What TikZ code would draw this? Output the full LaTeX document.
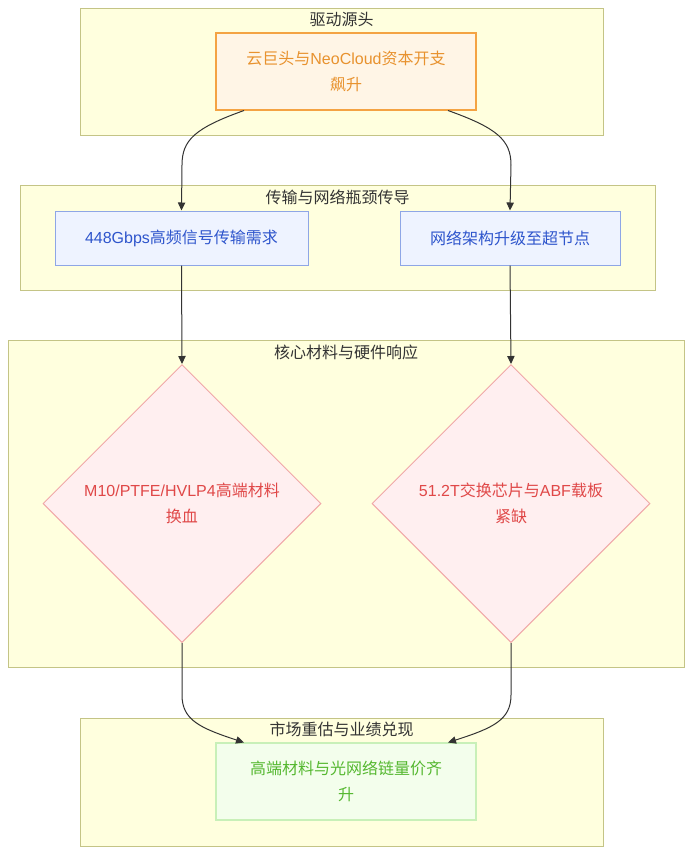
\documentclass[tikz,border=0pt]{standalone}
\usepackage{fontspec}
\setmainfont{Liberation Sans}
\newfontfamily\cjk{Noto Sans CJK SC}
\usetikzlibrary{shapes.geometric,arrows.meta}
\definecolor{clfill}{HTML}{FFFFDE}
\definecolor{clline}{HTML}{C4C486}
\definecolor{ofill}{HTML}{FFF5E6}
\definecolor{oline}{HTML}{F4A343}
\definecolor{otext}{HTML}{E8922E}
\definecolor{bfill}{HTML}{EEF3FF}
\definecolor{bline}{HTML}{8EA6E6}
\definecolor{btext}{HTML}{2E55CC}
\definecolor{rfill}{HTML}{FFEFF0}
\definecolor{rline}{HTML}{F0A8A8}
\definecolor{rtext}{HTML}{E04848}
\definecolor{gfill}{HTML}{F3FEEC}
\definecolor{gline}{HTML}{C8F0B8}
\definecolor{gtext}{HTML}{55B830}
\definecolor{ink}{HTML}{333333}
\tikzset{
  cluster/.style={draw=clline, fill=clfill, line width=0.75pt},
  ctitle/.style={text=ink, font=\cjk\fontsize{12}{14}\selectfont, inner sep=0pt},
  obox/.style={draw=oline, fill=ofill, line width=1.5pt, text=otext, align=center,
    minimum width=260*0.75pt, minimum height=77*0.75pt, inner sep=0pt,
    font=\fontsize{12}{19.5}\selectfont},
  bbox/.style={draw=bline, fill=bfill, line width=0.75pt, text=btext, align=center,
    minimum height=54*0.75pt, inner sep=0pt, font=\fontsize{12}{19.5}\selectfont},
  rdia/.style={diamond, shape aspect=1, draw=rline, fill=rfill, line width=0.75pt, text=rtext,
    align=center, minimum width=278*0.75pt, minimum height=278*0.75pt, inner sep=0pt,
    font=\fontsize{12}{19.5}\selectfont},
  gbox/.style={draw=gline, fill=gfill, line width=1.5pt, text=gtext, align=center,
    minimum width=260*0.75pt, minimum height=77*0.75pt, inner sep=0pt,
    font=\fontsize{12}{19.5}\selectfont},
  arr/.style={draw=ink, line width=0.75pt, -{Triangle[length=6pt,width=5.5pt]}},
}
\begin{document}
\begin{tikzpicture}[x=0.75pt, y=-0.75pt]
\useasboundingbox (0,0) rectangle (692,854);
\fill[white] (0,0) rectangle (692,854);
% clusters
\draw[cluster] (80,8) rectangle (603,135);
\node[ctitle] (t1) at (341.5,19) {驱动源头};
\draw[cluster] (20,185) rectangle (655,290);
\node[ctitle] (t2) at (337.5,197) {传输与网络瓶颈传导};
\draw[cluster] (8,340) rectangle (684,667);
\node[ctitle] (t3) at (346,352) {核心材料与硬件响应};
\draw[cluster] (80,718) rectangle (603,846);
\node[ctitle] (t4) at (341.5,729) {市场重估与业绩兑现};
% nodes
\node[obox] (A) at (346,71.5) {{\cjk 云巨头与}NeoCloud{\cjk 资本开支}\\{\cjk 飙升}};
\node[bbox, minimum width=253*0.75pt] (B) at (181.5,238) {448Gbps{\cjk 高频信号传输需求}};
\node[bbox, minimum width=220*0.75pt] (C) at (510,238) {\cjk 网络架构升级至超节点};
\node[rdia] (D) at (182,503.5) {M10/PTFE/HVLP4{\cjk 高端材料}\\{\cjk 换血}};
\node[rdia] (E) at (511,503.5) {51.2T{\cjk 交换芯片与}ABF{\cjk 载板}\\{\cjk 紧缺}};
\node[gbox] (F) at (346,781.5) {{\cjk 高端材料与光网络链量价齐}\\{\cjk 升}};
% connectors
\coordinate (a1) at (244,110.5);
\coordinate (a2) at (448,110.5);
\coordinate (f1) at (244,742.5);
\coordinate (f2) at (448,742.5);
\draw[arr] (a1) .. controls (195,128) and (182,140) .. (182,165) -- (B.north);
\draw[arr] (a2) .. controls (497,128) and (511,140) .. (511,165) -- (C.north);
\draw[arr] (B.south) -- (D.north);
\draw[arr] (C.south) -- (E.north);
\draw[arr] (D.south) -- (182,695) .. controls (182,720) and (200,728) .. (f1);
\draw[arr] (E.south) -- (511,695) .. controls (511,720) and (493,728) .. (f2);
\end{tikzpicture}
\end{document}
